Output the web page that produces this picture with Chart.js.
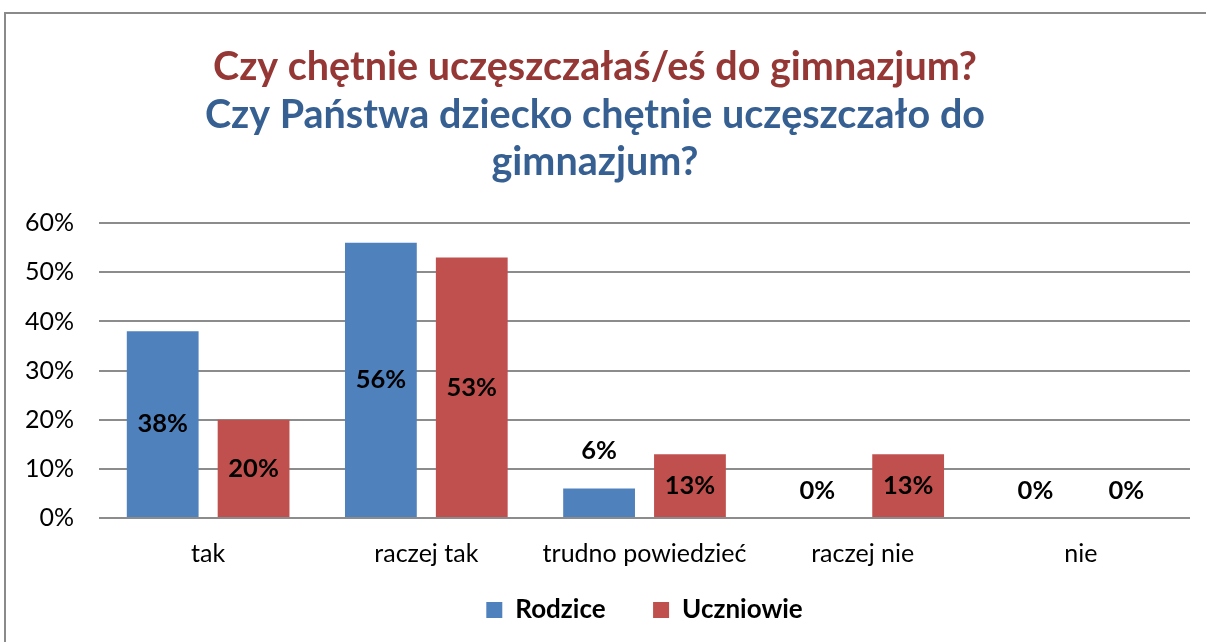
<!DOCTYPE html>
<html>
<head>
<meta charset="utf-8">
<script src="https://cdn.jsdelivr.net/npm/chart.js@4"></script>
<style>
  html, body { margin: 0; padding: 0; background: #fff; overflow: hidden; }
  #wrap { position: absolute; left: 0; top: 0; width: 1206px; height: 642px; }
  #frame { position: absolute; left: 4px; top: 12px; width: 1400px; height: 800px;
           border-left: 2px solid #8a8a8a; border-top: 2px solid #8a8a8a; pointer-events: none; }
</style>
</head>
<body>
<div id="wrap">
  <canvas id="chart" width="1206" height="642"></canvas>
  <div id="frame"></div>
</div>
<script>
// Data
const categories = ['tak', 'raczej tak', 'trudno powiedzieć', 'raczej nie', 'nie'];
const rodzice = [38, 56, 6, 0, 0];
const uczniowie = [20, 53, 13, 13, 0];
const yTicks = [0, 10, 20, 30, 40, 50, 60];

const FONT = 'Lato, Carlito, Calibri, sans-serif';

// Simple value labels (Excel-style)
const valueLabels = {
    id: 'valueLabels',
    afterDatasetsDraw(chart) {
        const ctx = chart.ctx;
        ctx.save();
        ctx.font = 'bold 25.5px ' + FONT;
        ctx.fillStyle = '#000';
        ctx.textAlign = 'center';
        ctx.textBaseline = 'middle';
        chart.data.datasets.forEach((ds, i) => {
            chart.getDatasetMeta(i).data.forEach((bar, j) => {
                const v = ds.data[j];
                const h = bar.base - bar.y;
                let y;
                if (v === 0) y = bar.base - 27;
                else if (h < 40) y = bar.y - 38;
                else y = (bar.y + bar.base) / 2;
                ctx.fillText(v + '%', bar.x, y);
            });
        });
        ctx.restore();
    }
};

const ctx = document.getElementById('chart').getContext('2d');
new Chart(ctx, {
    type: 'bar',
    data: {
        labels: categories,
        datasets: [
            { label: 'Rodzice', data: rodzice, backgroundColor: '#4F81BD' },
            { label: 'Uczniowie', data: uczniowie, backgroundColor: '#C0504D' }
        ]
    },
    options: {
        responsive: false,
        animation: false,
        categoryPercentage: 0.833,
        barPercentage: 0.79,
        layout: { padding: { left: 0, right: 16, top: 44, bottom: 9 } },
        plugins: {
            title: {
                display: true,
                text: 'Czy chętnie uczęszczałaś/eś do gimnazjum?',
                color: '#953735',
                font: { family: FONT, size: 39.5, weight: 'bold', lineHeight: 1.2 },
                padding: { top: 0, bottom: 0 }
            },
            subtitle: {
                display: true,
                text: ['Czy Państwa dziecko chętnie uczęszczało do', 'gimnazjum?'],
                color: '#376092',
                font: { family: FONT, size: 39.5, weight: 'bold', lineHeight: 1.2 },
                padding: { top: 0, bottom: 37 }
            },
            legend: {
                position: 'bottom',
                fullSize: false,
                labels: {
                    color: '#000',
                    font: { family: FONT, size: 26, weight: 'bold' },
                    boxWidth: 16,
                    boxHeight: 16,
                    padding: 15,
                    generateLabels(chart) {
                        const items = Chart.defaults.plugins.legend.labels.generateLabels(chart);
                        items[0].text += '\u2003\u2002';
                        return items;
                    }
                }
            },
            tooltip: { enabled: false }
        },
        scales: {
            x: {
                grid: { display: false },
                border: { display: false },
                ticks: { color: '#000', font: { family: FONT, size: 25 }, padding: 13, maxRotation: 0, minRotation: 0, autoSkip: false }
            },
            y: {
                min: 0,
                max: 60,
                afterBuildTicks(axis) { axis.ticks = yTicks.map(v => ({ value: v })); },
                grid: { color: '#8c8c8c', lineWidth: 2, drawTicks: false },
                border: { display: false },
                ticks: { color: '#000', font: { family: FONT, size: 25 }, padding: 25, callback: v => v + '%' }
            }
        }
    },
    plugins: [valueLabels]
});
</script>
</body>
</html>
